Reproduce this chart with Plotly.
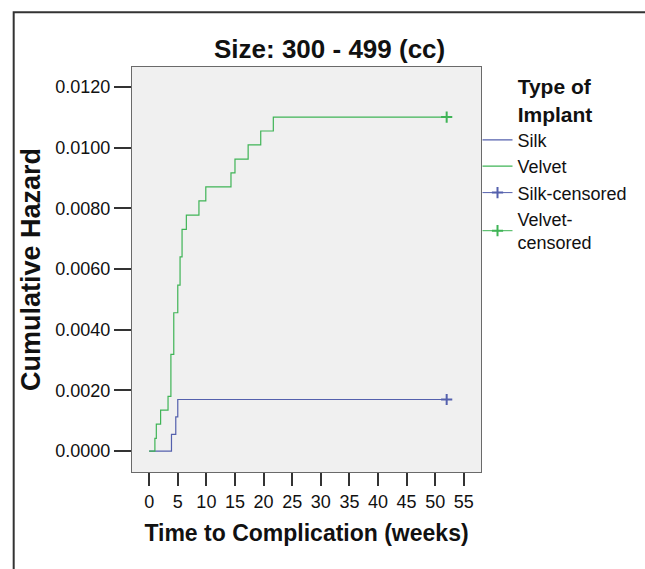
import plotly.graph_objects as go

# ---- data ----
silk_weeks = [0, 3.9, 4.65, 5.0, 52]
silk_hazard = [0, 0.00055, 0.00113, 0.00170, 0.00170]
silk_censored_weeks = [52]
silk_censored_hazard = [0.00170]

velvet_weeks = [0, 1.0, 1.25, 2.0, 3.3, 3.8, 4.3, 5.0, 5.4, 5.75, 6.5, 8.7,
                9.9, 14.3, 15.0, 17.3, 19.5, 21.7, 52]
velvet_hazard = [0, 0.00042, 0.00089, 0.00135, 0.00180, 0.00319, 0.00456,
                 0.00547, 0.00640, 0.00731, 0.00778, 0.00825, 0.00871,
                 0.00917, 0.00962, 0.01009, 0.01055, 0.01101, 0.01101]
velvet_censored_weeks = [52]
velvet_censored_hazard = [0.01101]

x_ticks = [0, 5, 10, 15, 20, 25, 30, 35, 40, 45, 50, 55]
y_ticks = [0.0, 0.002, 0.004, 0.006, 0.008, 0.010, 0.012]

SILK = "#5460ad"
VELVET = "#3fb456"
FONT = "Liberation Sans, Arial, sans-serif"

fig = go.Figure()
fig.add_trace(go.Scatter(x=silk_weeks, y=silk_hazard, name="Silk", mode="lines",
                         line=dict(color=SILK, width=1.2, shape="hv")))
fig.add_trace(go.Scatter(x=velvet_weeks, y=velvet_hazard, name="Velvet", mode="lines",
                         line=dict(color=VELVET, width=1.2, shape="hv")))
fig.add_trace(go.Scatter(x=silk_censored_weeks, y=silk_censored_hazard, name="Silk-censored",
                         mode="lines+markers", line=dict(color=SILK, width=1),
                         marker=dict(symbol="cross-thin", size=8,
                                     line=dict(color=SILK, width=2))))
fig.add_trace(go.Scatter(x=velvet_censored_weeks, y=velvet_censored_hazard,
                         name="Velvet-<br>censored",
                         mode="lines+markers", line=dict(color=VELVET, width=1),
                         marker=dict(symbol="cross-thin", size=8,
                                     line=dict(color=VELVET, width=2))))

fig.update_layout(
    width=645, height=569,
    margin=dict(l=132, r=150, t=67, b=97),
    paper_bgcolor="white",
    plot_bgcolor="#f0f0f0",
    font=dict(family=FONT, color="#111111", size=18),
    showlegend=True,
    legend=dict(
        x=0.99, xanchor="left", y=1.0, yanchor="top",
        bgcolor="rgba(0,0,0,0)",
        font=dict(size=18, family=FONT, color="#111111"),
        title=dict(text="<b>Type of<br>Implant</b>", side="top center",
                   font=dict(size=21, family=FONT, color="#111111")),
        tracegroupgap=0,
    ),
    annotations=[dict(
        text="<b>Size: 300 - 499 (cc)</b>", xref="paper", yref="paper",
        x=0.565, y=1.045, xanchor="center", yanchor="middle", showarrow=False,
        font=dict(size=26, family=FONT, color="#111111"))],
    shapes=[dict(type="rect", xref="paper", yref="paper",
                 x0=-0.339, x1=2.0, y0=-1.0, y1=1.135,
                 line=dict(color="#333333", width=2), layer="below")],
)

fig.update_xaxes(
    range=[-3, 58], tickvals=x_ticks, ticktext=[str(v) for v in x_ticks],
    ticks="outside", ticklen=13, tickcolor="#333333", tickwidth=1.5,
    showline=True, mirror=True, linecolor="#6a6a6a", linewidth=1.2,
    showgrid=False, zeroline=False,
    tickfont=dict(size=18),
    title=dict(text="<b>Time to Complication (weeks)</b>", font=dict(size=23), standoff=14),
)
fig.update_yaxes(
    range=[-0.00069, 0.01266], tickvals=y_ticks, tickformat=".4f",
    ticks="outside", ticklen=17, tickcolor="#333333", tickwidth=1.5,
    showline=True, mirror=True, linecolor="#6a6a6a", linewidth=1.2,
    showgrid=False, zeroline=False,
    tickfont=dict(size=18),
    title=dict(text="<b>Cumulative Hazard</b>", font=dict(size=27), standoff=6),
)

fig.write_html("out.html")
